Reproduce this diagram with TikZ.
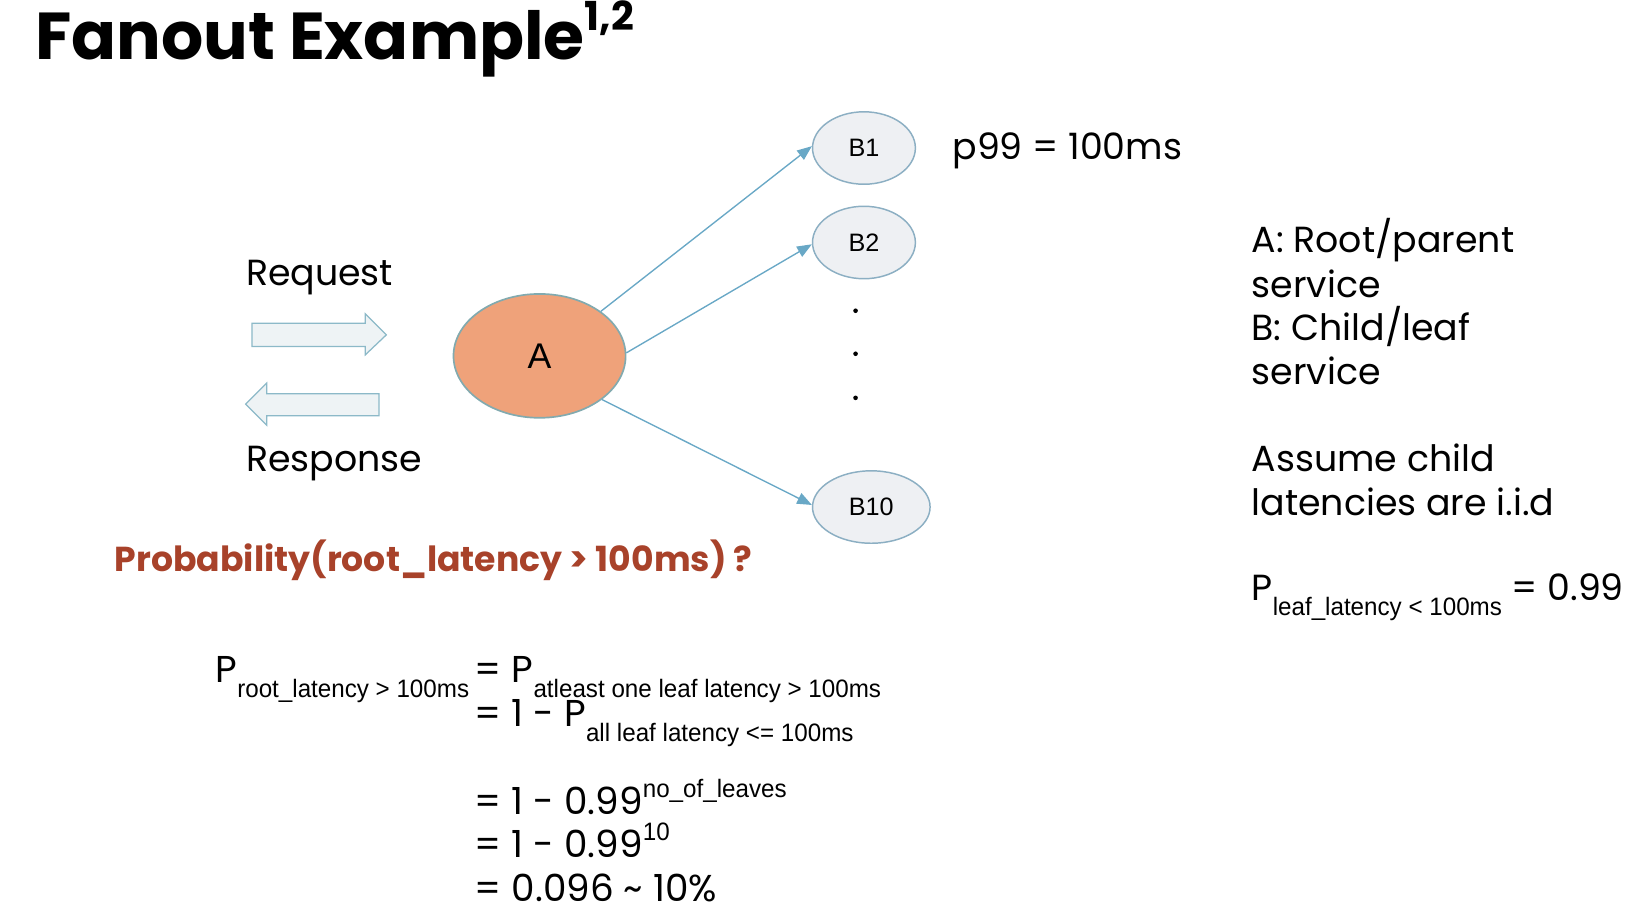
\documentclass[tikz,border=0pt]{standalone}
\usepackage{fontspec}
\usepackage{xcolor}
\setmainfont{Poppins}
\newfontfamily\labelfont{Liberation Sans}
\newfontfamily\subfont{Liberation Sans}[FakeStretch=0.96]
\usetikzlibrary{arrows.meta, positioning, shapes.geometric}

\definecolor{rootfill}{RGB}{239,162,122}
\definecolor{rootline}{RGB}{130,170,175}
\definecolor{leaffill}{RGB}{238,240,243}
\definecolor{leafline}{RGB}{140,175,195}
\definecolor{fanline}{RGB}{105,168,198}
\definecolor{askred}{RGB}{168,66,42}
\definecolor{flowfill}{RGB}{238,243,245}
\definecolor{flowline}{RGB}{140,185,200}

\newcommand{\lowsub}[1]{\raisebox{-7.3pt}{\subfont\fontsize{12}{14}\selectfont #1}}
\newcommand{\highsup}[1]{\raisebox{8pt}{\subfont\fontsize{12}{14}\selectfont #1}}

\begin{document}
\begin{tikzpicture}[
  x=0.5pt, y=-0.5pt,
  rootnode/.style={ellipse, draw=rootline, line width=0.8pt, fill=rootfill,
                   inner sep=0pt, font=\labelfont\fontsize{17}{19}\selectfont},
  leafnode/.style={ellipse, draw=leafline, line width=0.7pt, fill=leaffill,
                   inner sep=0pt, minimum height=34.5pt,
                   font=\labelfont\fontsize{12}{14}\selectfont},
  fan/.style={draw=fanline, line width=0.65pt,
              -{Triangle[length=7pt, width=5.5pt]}},
  flowarrow/.style={draw=flowline, line width=0.6pt, fill=flowfill},
  bodytext/.style={anchor=base west, inner sep=0pt,
                   font=\fontsize{17.3}{20}\selectfont},
  formula/.style={anchor=base west, inner sep=0pt,
                  font=\fontsize{17.8}{20}\selectfont}
]
  \useasboundingbox (0,0) rectangle (1568,873);

  \node[anchor=base west, inner sep=0pt, font=\bfseries\fontsize{31.6}{34}\selectfont]
    (title) at (33,57) {Fanout Example\raisebox{14pt}{\fontsize{19}{21}\selectfont 1,2}};

  % request / response
  \node[bodytext] (request) at (234,272) {Request};
  \node[bodytext] (response) at (234,449) {Response};
  \draw[flowarrow] (240,308) -- (348,308) -- (348,299) -- (368,319)
    -- (348,338) -- (348,330) -- (240,330) -- cycle;
  \draw[flowarrow] (361,375) -- (254,375) -- (254,365) -- (234,385)
    -- (254,405) -- (254,396) -- (361,396) -- cycle;

  % root and leaves
  \node[rootnode, minimum width=82pt, minimum height=59pt] (A) at (514,339) {A};
  \node[leafnode, minimum width=49pt] (B1) at (823,141) {B1};
  \node[leafnode, minimum width=49pt] (B2) at (823,231) {B2};
  \node[leafnode, minimum width=56pt] (B10) at (830,483) {B10};
  \foreach \yy in {296,337,379}
    \fill (815,\yy) circle (1.1pt);

  \draw[fan] (A.36) -- (B1.178);
  \draw[fan] (A.2) -- (B2.182);
  \draw[fan] (A.-35) -- (B10.178);

  \node[bodytext] (p99) at (907,152) {p99 = 100ms};

  % notes on the right
  \node[bodytext] (legA) at (1192,241) {A: Root/parent};
  \node[bodytext] (legA2) at (1192,283) {service};
  \node[bodytext] (legB) at (1192,324) {B: Child/leaf};
  \node[bodytext] (legB2) at (1192,366) {service};
  \node[bodytext] (assume) at (1192,449) {Assume child};
  \node[bodytext] (assume2) at (1192,491) {latencies are i.i.d};
  \node[bodytext] (pleaf) at (1192,572) {P\lowsub{leaf\_latency < 100ms} = 0.99};

  \node[anchor=base west, inner sep=0pt, text=askred,
        font=\bfseries\fontsize{16.5}{19}\selectfont]
    (question) at (109,544) {Probability(root\_latency > 100ms) ?};

  % derivation
  \node[formula] (eq1) at (205,650) {P\lowsub{root\_latency > 100ms}};
  \node[formula] (eq1r) at (452,650) {= P\lowsub{atleast one leaf latency > 100ms}};
  \node[formula] (eq2) at (452,692) {= 1 - P\lowsub{all leaf latency <= 100ms}};
  \node[formula] (eq3) at (452,776) {= 1 - 0.99\highsup{no\_of\_leaves}};
  \node[formula] (eq4) at (452,817) {= 1 - 0.99\highsup{10}};
  \node[formula] (eq5) at (452,859) {= 0.096 \textasciitilde{} 10\%};
\end{tikzpicture}
\end{document}
